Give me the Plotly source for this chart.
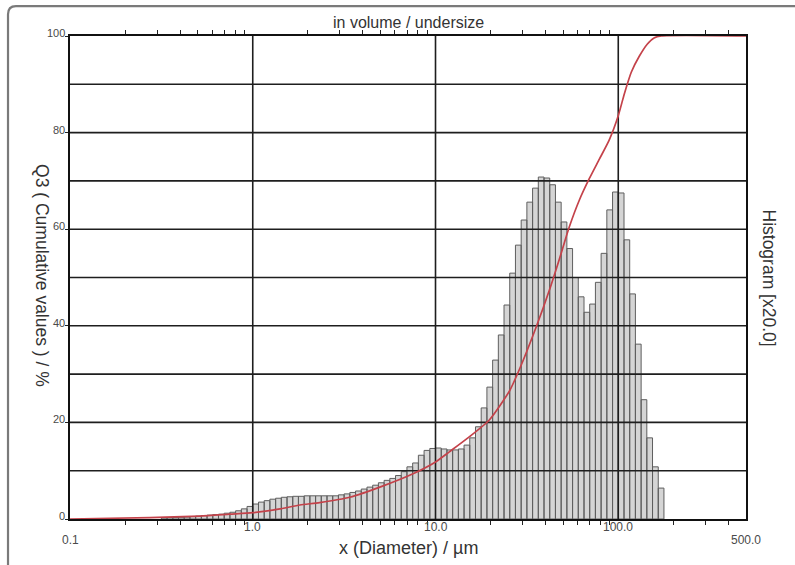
import math
import plotly.graph_objects as go

# ---------------- data ----------------
# class edges of the histogram (µm)
bin_edges_um = [
    0.3162, 0.3398, 0.3652, 0.3924, 0.4217, 0.4532, 0.4870, 0.5233,
    0.5623, 0.6043, 0.6494, 0.6978, 0.7499, 0.8058, 0.8660, 0.9306,
    1.000, 1.075, 1.155, 1.241, 1.334, 1.433, 1.540, 1.655,
    1.778, 1.911, 2.054, 2.207, 2.371, 2.548, 2.738, 2.943,
    3.162, 3.398, 3.652, 3.924, 4.217, 4.532, 4.870, 5.233,
    5.623, 6.043, 6.494, 6.978, 7.499, 8.058, 8.660, 9.306,
    10.00, 10.75, 11.55, 12.41, 13.34, 14.33, 15.40, 16.55,
    17.78, 19.11, 20.54, 22.07, 23.71, 25.48, 27.38, 29.43,
    31.62, 33.98, 36.52, 39.24, 42.17, 45.32, 48.70, 52.33,
    56.23, 60.43, 64.94, 69.78, 74.99, 80.58, 86.60, 93.06,
    100.0, 107.5, 115.5, 124.1, 133.4, 143.3, 154.0, 165.5, 177.8,
]

# histogram heights (scaled x20, same 0-100 scale)
hist_values = [
    0.25, 0.3, 0.3, 0.35, 0.4, 0.5, 0.6, 0.7,
    0.8, 0.9, 1.0, 1.2, 1.4, 1.7, 2.1, 2.6,
    3.1, 3.5, 3.8, 4.1, 4.3, 4.5, 4.6, 4.7,
    4.7, 4.8, 4.8, 4.8, 4.8, 4.8, 4.8, 5.0,
    5.2, 5.5, 5.8, 6.2, 6.6, 7.0, 7.5, 8.0,
    8.4, 9.0, 9.8, 10.8, 11.6, 13.2, 14.2, 14.6,
    14.7, 14.5, 14.3, 14.3, 14.5, 15.3, 16.8, 19.1,
    23.0, 27.3, 32.9, 38.1, 44.3, 50.9, 56.7, 61.9,
    65.6, 68.5, 70.8, 70.6, 69.2, 65.6, 61.5, 56.0,
    50.0, 46.0, 42.8, 44.5, 49.0, 55.0, 64.0, 67.7,
    67.5, 57.8, 46.6, 36.2, 24.7, 16.8, 10.8, 6.4,
]

# cumulative undersize curve Q3 (%)
cum_size_um = [0.1, 0.274, 0.513, 0.748, 1.0, 1.41, 1.81, 2.32, 3.39, 5.13,
               7.48, 10.0, 11.9, 15.3, 19.7, 25.4, 28.8, 35.6, 42.0, 47.6,
               54.0, 61.2, 69.5, 78.8, 89.3, 100.0, 107.9, 117.8, 130.3,
               144.0, 157.0, 172.0, 500.0]
cum_undersize_pct = [0, 0.3, 0.6, 1.0, 1.3, 2.1, 2.9, 3.4, 4.5, 6.8,
                     9.3, 11.8, 13.9, 17.0, 20.5, 26.5, 31.0, 39.8, 47.4, 53.8,
                     60.5, 66.0, 70.5, 74.5, 78.5, 83.5, 88.0, 92.5, 95.8,
                     98.3, 99.6, 100.0, 100.0]

x_major = [1, 10, 100]
x_minor = [0.2, 0.3, 0.4, 0.5, 0.6, 0.7, 0.8, 0.9,
           2, 3, 4, 5, 6, 7, 8, 9,
           20, 30, 40, 50, 60, 70, 80, 90,
           200, 300, 400]
x_label_vals = [0.1, 1, 10, 100, 500]
x_label_text = ["0.1", "1.0", "10.0", "100.0", "500.0"]
y_grid = [10, 20, 30, 40, 50, 60, 70, 80, 90]
y_label_vals = [0, 20, 40, 60, 80, 100]
x_min, x_max = 0.1, 500
y_min, y_max = 0, 100

FONT = "Liberation Sans, Arial, Helvetica, sans-serif"

fig = go.Figure()

# histogram bars as adjacent filled rectangles on the log axis
bx, by = [], []
for lo, hi, h in zip(bin_edges_um[:-1], bin_edges_um[1:], hist_values):
    bx += [lo, lo, hi, hi, lo, None]
    by += [0, h, h, 0, 0, None]
fig.add_trace(go.Scatter(x=bx, y=by, mode="lines", fill="toself",
                         fillcolor="#d5d5d5",
                         line=dict(color="#5e5e5e", width=1),
                         hoverinfo="skip", showlegend=False))

# grid lines drawn above the bars
gx, gy = [], []
for v in y_grid:
    gx += [x_min, x_max, None]
    gy += [v, v, None]
for v in x_major:
    gx += [v, v, None]
    gy += [y_min, y_max, None]
fig.add_trace(go.Scatter(x=gx, y=gy, mode="lines",
                         line=dict(color="#1e1e1e", width=1.6),
                         hoverinfo="skip", showlegend=False))

# cumulative curve
fig.add_trace(go.Scatter(x=cum_size_um, y=cum_undersize_pct, mode="lines",
                         line=dict(color="#c4424a", width=1.7, shape="spline",
                                   smoothing=0.6),
                         showlegend=False))

fig.update_xaxes(type="log", range=[math.log10(x_min), math.log10(x_max)],
                 showgrid=False, zeroline=False,
                 tickmode="array", tickvals=x_minor, ticks="outside",
                 ticklen=4, tickwidth=1, tickcolor="#222",
                 showticklabels=False,
                 showline=True, linecolor="#111", linewidth=1.5,
                 mirror="ticks")
fig.update_yaxes(range=[y_min, y_max], showgrid=False, zeroline=False,
                 tickmode="array", tickvals=y_label_vals, ticks="outside",
                 ticklen=3, tickcolor="#222", showticklabels=False,
                 showline=True, linecolor="#111", linewidth=1.5, mirror=True)

ann = []
for v, t in zip(x_label_vals, x_label_text):
    low = v in (0.1, 500)
    ann.append(dict(x=math.log10(v), y=0, xref="x", yref="paper", text=t,
                    showarrow=False, xanchor="center", yanchor="middle",
                    yshift=-21 if low else -8,
                    font=dict(family=FONT, size=12, color="#4a4a4a")))
for v in y_label_vals:
    ann.append(dict(x=0, y=v, xref="paper", yref="y", text=str(v),
                    showarrow=False, xanchor="right", yanchor="middle",
                    xshift=-3, yshift=3,
                    font=dict(family=FONT, size=11, color="#4a4a4a")))
ann += [
    dict(x=0.5, y=1, xref="paper", yref="paper", text="in volume / undersize",
         showarrow=False, xanchor="center", yanchor="middle", yshift=14,
         font=dict(family=FONT, size=16, color="#333")),
    dict(x=0.5, y=0, xref="paper", yref="paper", text="x (Diameter) / µm",
         showarrow=False, xanchor="center", yanchor="middle", yshift=-29,
         font=dict(family=FONT, size=18, color="#333")),
    dict(x=0, y=0.505, xref="paper", yref="paper",
         text="Q3 ( Cumulative values ) / %", textangle=90,
         showarrow=False, xanchor="center", yanchor="middle", xshift=-28,
         font=dict(family=FONT, size=17.5, color="#333")),
    dict(x=1, y=0.5, xref="paper", yref="paper",
         text="Histogram [x20.0]", textangle=90,
         showarrow=False, xanchor="center", yanchor="middle", xshift=23,
         font=dict(family=FONT, size=17.5, color="#333")),
]

# rounded outer frame (top and left edges visible)
frame = dict(type="path", xref="paper", yref="paper",
             path="M 1.10,1.062 L -0.080,1.062 Q -0.0917,1.062 -0.0917,1.045 L -0.0917,-0.15",
             line=dict(color="#7a7a7a", width=2.2))

fig.update_layout(width=795, height=565,
                  margin=dict(l=70, r=49, t=36, b=46),
                  paper_bgcolor="white", plot_bgcolor="white",
                  annotations=ann, shapes=[frame], showlegend=False,
                  font=dict(family=FONT))

# remove the default 8px page margin so the figure sits at the window origin
fig.write_html("out.html",
               config={"displayModeBar": False},
               post_script="document.body.style.margin='0px';")
